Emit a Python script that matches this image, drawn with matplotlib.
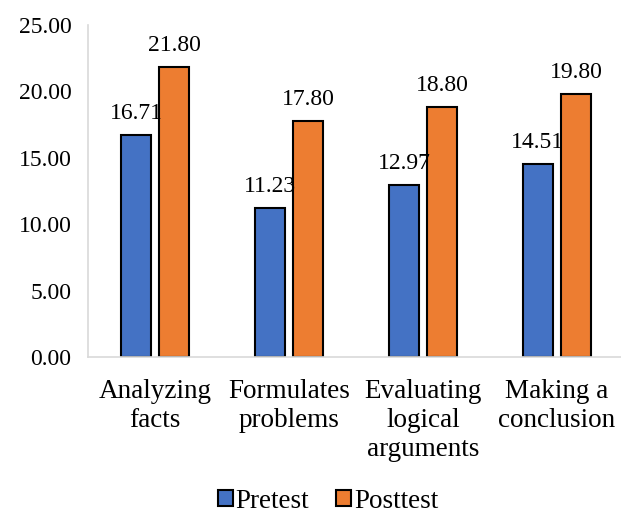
import matplotlib
matplotlib.use('Agg')
from matplotlib import pyplot as plt
import numpy as np

categories = ['Analyzing\nfacts', 'Formulates\nproblems', 'Evaluating\nlogical\narguments', 'Making a\nconclusion']
pretest = [16.71, 11.23, 12.97, 14.51]
posttest = [21.80, 17.80, 18.80, 19.80]
yticks = [0, 5, 10, 15, 20, 25]

plt.rcParams['font.family'] = ['Liberation Serif', 'DejaVu Serif']
fs = 17
fs_txt = 19.5

fig = plt.figure(figsize=(6.21, 5.12), dpi=100)
ax = fig.add_axes([88 / 621, 155 / 512, 536 / 621, 332 / 512])

x = np.arange(len(categories))
w = 0.225
off = 0.142
b1 = ax.bar(x - off, pretest, w, color='#4472C4', edgecolor='black', linewidth=1.5, label='Pretest')
b2 = ax.bar(x + off, posttest, w, color='#ED7D31', edgecolor='black', linewidth=1.5, label='Posttest')

for bars, vals in [(b1, pretest), (b2, posttest)]:
    for b, v in zip(bars, vals):
        ax.annotate('%.2f' % v, (b.get_x() + b.get_width() / 2, v), xytext=(0, 8),
                    textcoords='offset points', ha='center', va='bottom', fontsize=fs)

ax.set_xlim(-0.5, 3.5)
ax.set_ylim(0, 25)
ax.set_yticks(yticks)
ax.set_yticklabels(['%.2f' % t for t in yticks], fontsize=fs)
ax.set_xticks(x)
ax.set_xticklabels(categories, fontsize=fs_txt, linespacing=1.2)
ax.tick_params(length=0, pad=16)
ax.tick_params(axis='y', pad=12)

for s in ['top', 'right']:
    ax.spines[s].set_visible(False)
ax.spines['left'].set_color('#d9d9d9')
ax.spines['bottom'].set_color('#d9d9d9')
ax.spines['left'].set_linewidth(1.2)
ax.spines['bottom'].set_linewidth(1.2)

fig.legend(loc='center', bbox_to_anchor=(328 / 621, 1 - 501 / 512), ncol=2, frameon=False, fontsize=fs_txt,
           handlelength=0.55, handleheight=0.55, handletextpad=0.1, columnspacing=1.0,
           borderpad=0, borderaxespad=0)

plt.savefig('out.png', dpi=100)
